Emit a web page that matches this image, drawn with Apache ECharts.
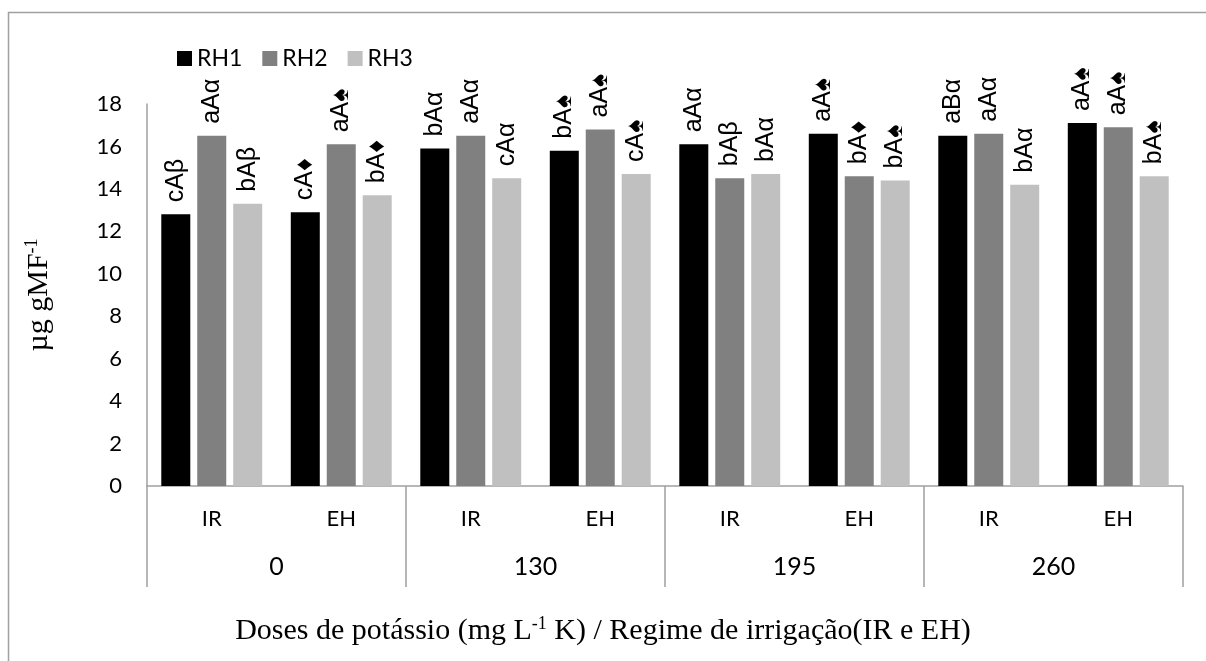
<!DOCTYPE html>
<html>
<head>
<meta charset="utf-8">
<script src="https://cdn.jsdelivr.net/npm/echarts@6/dist/echarts.min.js"></script>
<style>html,body{margin:0;padding:0;background:#fff}#c{width:1206px;height:661px}</style>
</head>
<body>
<div id="c"></div>
<script>
var regimes = ['IR','EH','IR','EH','IR','EH','IR','EH'];
var doses = ['0','130','195','260'];
var seriesNames = ['RH1','RH2','RH3'];
var rh1 = [12.8, 12.9, 15.9, 15.8, 16.1, 16.6, 16.5, 17.1];
var rh2 = [16.5, 16.1, 16.5, 16.8, 14.5, 14.6, 16.6, 16.9];
var rh3 = [13.3, 13.7, 14.5, 14.7, 14.7, 14.4, 14.2, 14.6];
var lab1 = ['cAβ','cA♦','bAα','bA♠','aAα','aA♠','aBα','aA♠'];
var lab2 = ['aAα','aA♠','aAα','aA♠','bAβ','bA♦','aAα','aA♠'];
var lab3 = ['bAβ','bA♦','cAα','cA♠','bAα','bA♠','bAα','bA♠'];
var yTicks = [0,2,4,6,8,10,12,14,16,18];

var colors = ['#000000','#808080','#c0c0c0'];
var vals = [rh1, rh2, rh3];
var labs = [lab1, lab2, lab3];
var sans = 'Lato';
var gray = '#a0a0a0';

var series = seriesNames.map(function(n, i){
  return {
    name: n, type: 'bar', xAxisIndex: 0, yAxisIndex: 0,
    barWidth: 29, barGap: '24%',
    itemStyle: { color: colors[i] },
    data: vals[i].map(function(v, j){ return { value: v, label: { formatter: labs[i][j] } }; }),
    label: {
      show: true, position: 'top', rotate: 90, align: 'left', verticalAlign: 'middle',
      distance: 12, color: '#000', fontFamily: '"Liberation Sans", Arial, "DejaVu Sans", sans-serif', fontSize: 25
    }
  };
});

var chart = echarts.init(document.getElementById('c'));
chart.setOption({
  animation: false,
  backgroundColor: '#fff',
  grid: { left: 147, right: 23, top: 104, bottom: 175, containLabel: false, outerBoundsMode: 'none' },
  legend: {
    left: 172, top: 42, itemWidth: 15, itemHeight: 15, itemGap: 20, icon: 'rect',
    textStyle: { fontFamily: sans, fontSize: 23, color: '#000' },
    data: seriesNames
  },
  xAxis: [
    { type: 'category', data: regimes, position: 'bottom',
      axisLine: { lineStyle: { color: gray, width: 1.5 } },
      axisTick: { show: false },
      axisLabel: { margin: 22, fontFamily: sans, fontSize: 22, color: '#000' } },
    { type: 'category', data: doses, position: 'bottom',
      axisLine: { show: false },
      axisTick: { show: true, length: 101, interval: 0, lineStyle: { color: gray, width: 1.5 } },
      axisLabel: { margin: 68, fontFamily: sans, fontSize: 25, color: '#000' } }
  ],
  yAxis: {
    type: 'value', min: 0, max: 18, interval: 2,
    splitLine: { show: false },
    axisLine: { show: true, lineStyle: { color: gray, width: 1.5 } },
    axisTick: { show: false },
    axisLabel: { margin: 25, fontFamily: sans, fontSize: 22, color: '#000',
      formatter: function(v){ return yTicks.indexOf(v) >= 0 ? String(v) : ''; } },
    name: '{a|µg gMF}{s|-1}', nameLocation: 'middle', nameRotate: 90, nameGap: 92,
    nameTextStyle: { rich: {
      a: { fontFamily: 'Liberation Serif', fontSize: 30, color: '#000' },
      s: { fontFamily: 'Liberation Serif', fontSize: 18, color: '#000', padding: [0,0,14,0] }
    } }
  },
  graphic: [
    { type: 'rect', silent: true, shape: { x: 8.5, y: 12.5, width: 1400, height: 1000 },
      style: { fill: 'none', stroke: gray, lineWidth: 1.5 } },
    { type: 'text', left: 'center', top: 615, silent: true,
      style: { text: '{a|Doses de potássio (mg L}{s|-1}{a| K) / Regime de irrigação(IR e EH)}',
        rich: {
          a: { fontFamily: 'Liberation Serif', fontSize: 30, fill: '#000' },
          s: { fontFamily: 'Liberation Serif', fontSize: 18, fill: '#000', padding: [0,0,14,0] }
        } } }
  ],
  series: series
});
</script>
</body>
</html>
